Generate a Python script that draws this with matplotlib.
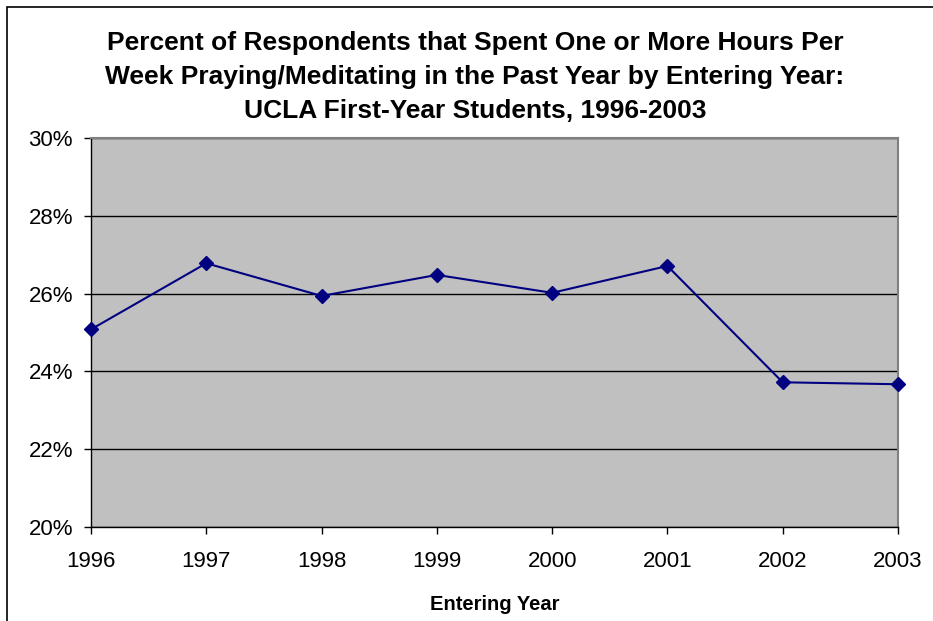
import matplotlib.pyplot as plt
from matplotlib.patches import Rectangle

# data
years = [1996, 1997, 1998, 1999, 2000, 2001, 2002, 2003]
pct = [25.08, 26.78, 25.94, 26.48, 26.02, 26.71, 23.72, 23.67]
ytick_vals = [20, 22, 24, 26, 28, 30]
ytick_labels = ['20%', '22%', '24%', '26%', '28%', '30%']

plt.rcParams['font.family'] = ['Liberation Sans', 'DejaVu Sans']

fig = plt.figure(figsize=(9.33, 6.21), dpi=100)
ax = fig.add_axes([91 / 933, 1 - 527 / 621, (898 - 91) / 933, (527 - 138) / 621])

# outer chart border (cut at the right and bottom like the source)
fig.patches.append(Rectangle((7 / 933, -0.1), 1.1, 1 - 7 / 621 + 0.1,
                             transform=fig.transFigure, fill=False,
                             edgecolor='black', linewidth=1.2))

ax.set_facecolor('#C0C0C0')
ax.plot(years, pct, color='#000080', linewidth=1.5, marker='D',
        markersize=7.5, markerfacecolor='#000080', markeredgecolor='#000080',
        clip_on=False, zorder=3)

ax.set_xlim(1996, 2003)
ax.set_ylim(20, 30)
ax.set_xticks(years)
ax.set_xticklabels([str(y) for y in years], fontsize=16)
ax.set_yticks(ytick_vals)
ax.set_yticklabels(ytick_labels, fontsize=16)
ax.tick_params(axis='both', direction='out', length=5, width=1, color='black')
ax.tick_params(axis='x', pad=12)
ax.tick_params(axis='y', pad=8)

ax.grid(axis='y', color='black', linewidth=1)
ax.set_axisbelow(True)

for s in ['left', 'bottom']:
    ax.spines[s].set_color('black')
    ax.spines[s].set_linewidth(1)
for s in ['top', 'right']:
    ax.spines[s].set_color('#808080')
    ax.spines[s].set_linewidth(1.5)

ax.set_xlabel('Entering Year', fontsize=14.5, fontweight='bold', labelpad=17)

fig.text(475 / 933, 1 - 77 / 621,
         'Percent of Respondents that Spent One or More Hours Per\n'
         'Week Praying/Meditating in the Past Year by Entering Year:\n'
         'UCLA First-Year Students, 1996-2003',
         ha='center', va='center', fontsize=19, fontweight='bold',
         linespacing=1.52)

fig.savefig('out.png', dpi=100)
